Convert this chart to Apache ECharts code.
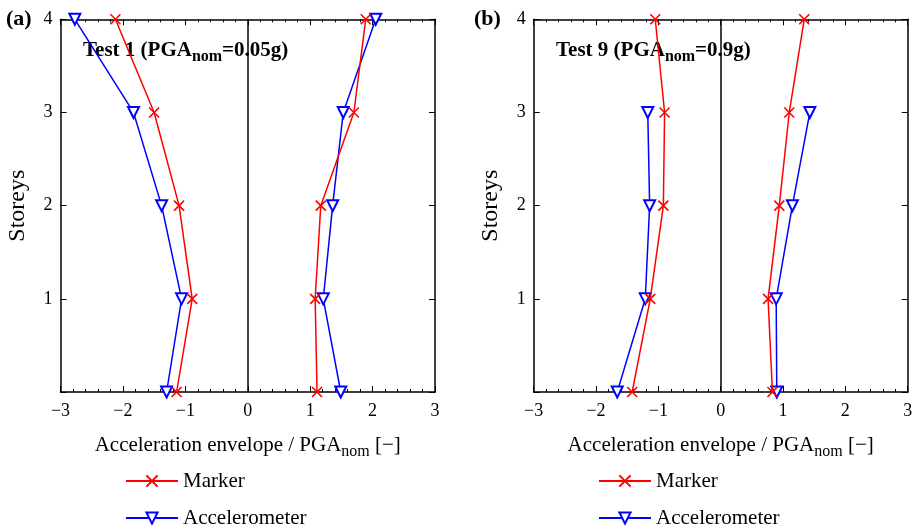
<!DOCTYPE html>
<html>
<head>
<meta charset="utf-8">
<script src="https://cdn.jsdelivr.net/npm/echarts@6/dist/echarts.min.js"></script>
<style>
html,body{margin:0;padding:0;background:#fff;}
#chart{width:916px;height:531px;}
</style>
</head>
<body>
<div id="chart"></div>
<script>
// ---- data ----
const storeys = [0, 1, 2, 3, 4];
const storeysAcc9 = [0, 1, 2, 3];
const xTicks = [-3, -2, -1, 0, 1, 2, 3];
const yTicks = [1, 2, 3, 4];
// Test 1 (panel a)
const t1MarkerNeg = [-1.14, -0.89, -1.10, -1.50, -2.12];
const t1MarkerPos = [1.11, 1.08, 1.17, 1.70, 1.89];
const t1AccNeg = [-1.30, -1.06, -1.38, -1.83, -2.77];
const t1AccPos = [1.49, 1.21, 1.36, 1.53, 2.05];
// Test 9 (panel b)
const t9MarkerNeg = [-1.42, -1.13, -0.92, -0.90, -1.05];
const t9MarkerPos = [0.83, 0.76, 0.94, 1.10, 1.34];
const t9AccNeg = [-1.66, -1.21, -1.14, -1.17];
const t9AccPos = [0.90, 0.89, 1.15, 1.43];

const FONT = 'Liberation Serif';
const RED = '#ff0000', BLUE = '#0000ff';
const CROSS = 'path://M0,0L10,10M10,0L0,10';

function pairs(xs, ys) { return xs.map((v, i) => [v, ys[i]]); }

const chart = echarts.init(document.getElementById('chart'));

const grids = [
  {left: 60.5, top: 19.3, width: 374.5, height: 372.7},
  {left: 533.7, top: 19.3, width: 374, height: 372.7}
];

const xAxes = [], yAxes = [];
grids.forEach((g, gi) => {
  xAxes.push({
    gridIndex: gi, type: 'value', min: xTicks[0], max: xTicks[xTicks.length - 1], interval: 1,
    position: 'bottom',
    axisLine: {onZero: false, lineStyle: {color: '#000', width: 1.5}},
    axisTick: {inside: true, length: 6, lineStyle: {color: '#000', width: 1}},
    minorTick: {show: true, splitNumber: 5, length: 3, lineStyle: {color: '#000', width: 1}},
    splitLine: {show: false},
    axisLabel: {fontFamily: FONT, fontSize: 18, color: '#000', margin: 10,
      formatter: v => v < 0 ? '\u2212' + Math.abs(v) : String(v)},
    name: 'Acceleration envelope / PGA{s|nom} [\u2212]',
    nameLocation: 'middle', nameGap: 38,
    nameTextStyle: {fontFamily: FONT, fontSize: 21, color: '#000',
      rich: {s: {fontFamily: FONT, fontSize: 16, color: '#000', padding: [14, 0, 0, 0]}}}
  });
  xAxes.push({
    gridIndex: gi, type: 'value', min: xTicks[0], max: xTicks[xTicks.length - 1], interval: 1,
    position: 'top',
    axisLine: {onZero: false, lineStyle: {color: '#000', width: 1.5}},
    axisTick: {inside: true, length: 6, lineStyle: {color: '#000', width: 1}},
    minorTick: {show: true, splitNumber: 5, length: 3, lineStyle: {color: '#000', width: 1}},
    splitLine: {show: false},
    axisLabel: {show: false}
  });
  yAxes.push({
    gridIndex: gi, type: 'value', min: 0, max: yTicks[yTicks.length - 1], interval: 1,
    position: 'left',
    axisLine: {onZero: false, lineStyle: {color: '#000', width: 1.5}},
    axisTick: {inside: true, length: 6, lineStyle: {color: '#000', width: 1}},
    splitLine: {show: false},
    axisLabel: {fontFamily: FONT, fontSize: 18, color: '#000', margin: 8,
      formatter: v => yTicks.indexOf(v) >= 0 ? String(v) : ''},
    name: 'Storeys', nameLocation: 'middle', nameGap: 31,
    nameTextStyle: {fontFamily: FONT, fontSize: 24, color: '#000'}
  });
  yAxes.push({
    gridIndex: gi, type: 'value', min: 0, max: yTicks[yTicks.length - 1], interval: 1,
    position: 'right',
    axisLine: {onZero: false, lineStyle: {color: '#000', width: 1.5}},
    axisTick: {inside: true, length: 6, lineStyle: {color: '#000', width: 1}},
    splitLine: {show: false},
    axisLabel: {show: false}
  });
});

function markerSeries(gi, xs, ys, withZero) {
  const s = {
    name: 'Marker', type: 'line', xAxisIndex: gi * 2, yAxisIndex: gi * 2,
    data: pairs(xs, ys), clip: false, z: 3,
    symbol: CROSS, symbolSize: 10,
    itemStyle: {color: RED, borderColor: RED, borderWidth: 1.6},
    lineStyle: {color: RED, width: 1.5}
  };
  if (withZero) {
    s.markLine = {silent: true, symbol: 'none', label: {show: false},
      lineStyle: {color: '#000', width: 1.5, type: 'solid'},
      data: [{xAxis: 0}]};
  }
  return s;
}
function accSeries(gi, xs, ys) {
  return {
    name: 'Accelerometer', type: 'line', xAxisIndex: gi * 2, yAxisIndex: gi * 2,
    data: pairs(xs, ys), clip: false, z: 2,
    symbol: 'emptyTriangle', symbolRotate: 180, symbolSize: 11,
    itemStyle: {color: BLUE, borderColor: BLUE, borderWidth: 1.5},
    lineStyle: {color: BLUE, width: 1.5}
  };
}

const legendBase = {
  orient: 'vertical', top: 470.5, padding: 0, itemGap: 16,
  itemWidth: 52, itemHeight: 14,
  textStyle: {fontFamily: FONT, fontSize: 21, color: '#000'},
  data: ['Marker', 'Accelerometer'], selectedMode: false
};

const titleRich = {
  a: {fontFamily: FONT, fontSize: 21, fontWeight: 'bold', color: '#000'},
  s: {fontFamily: FONT, fontSize: 16, fontWeight: 'bold', color: '#000', padding: [13, 0, 0, 0]}
};

const option = {
  animation: false,
  backgroundColor: '#fff',
  grid: grids,
  xAxis: xAxes,
  yAxis: yAxes,
  legend: [
    Object.assign({}, legendBase, {left: 125}),
    Object.assign({}, legendBase, {left: 598})
  ],
  graphic: [
    {type: 'text', left: 6, top: 8, style: {text: '(a)', font: 'bold 22px "Liberation Serif"', fill: '#000'}},
    {type: 'text', left: 474, top: 8, style: {text: '(b)', font: 'bold 22px "Liberation Serif"', fill: '#000'}},
    {type: 'text', left: 83, top: 40, style: {text: '{a|Test 1 (PGA}{s|nom}{a|=0.05g)}', rich: titleRich}},
    {type: 'text', left: 556, top: 40, style: {text: '{a|Test 9 (PGA}{s|nom}{a|=0.9g)}', rich: titleRich}}
  ],
  series: [
    markerSeries(0, t1MarkerNeg, storeys, true),
    markerSeries(0, t1MarkerPos, storeys, false),
    accSeries(0, t1AccNeg, storeys),
    accSeries(0, t1AccPos, storeys),
    markerSeries(1, t9MarkerNeg, storeys, true),
    markerSeries(1, t9MarkerPos, storeys, false),
    accSeries(1, t9AccNeg, storeysAcc9),
    accSeries(1, t9AccPos, storeysAcc9)
  ]
};
chart.setOption(option);
</script>
</body>
</html>
